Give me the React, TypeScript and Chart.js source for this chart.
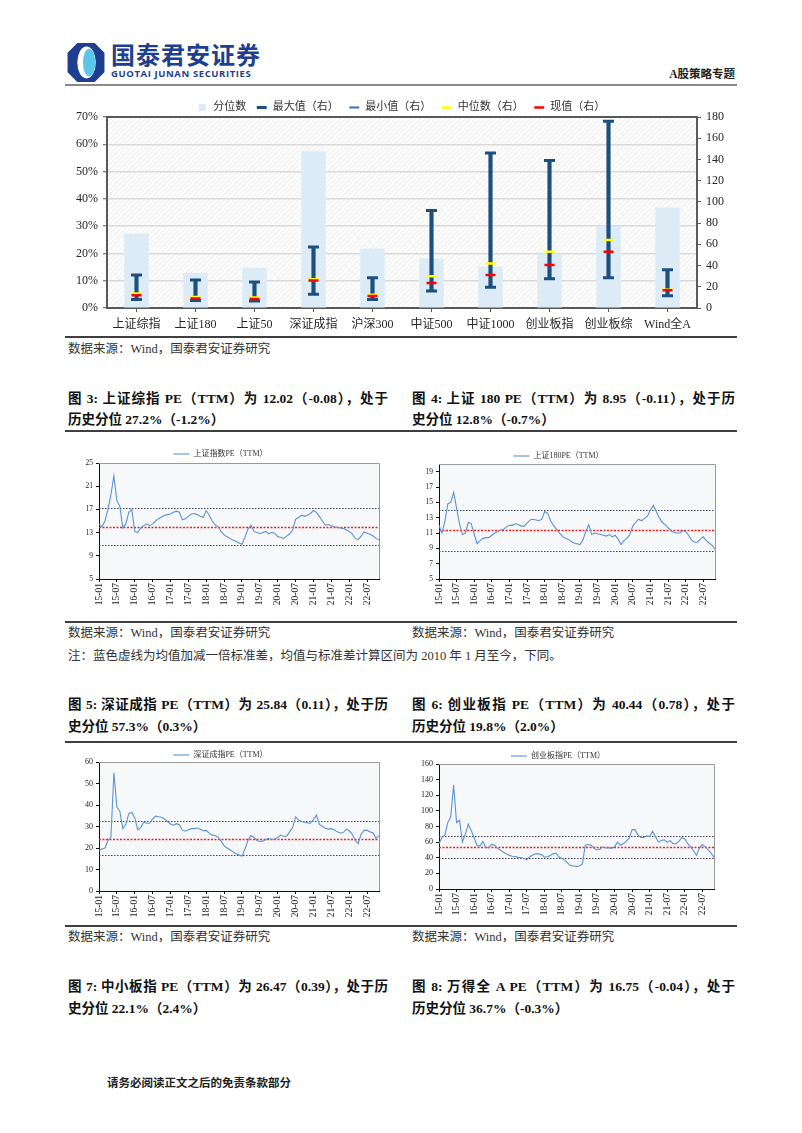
import React, { useEffect, useRef } from 'react';
import { Chart, registerables } from 'chart.js';
Chart.register(...registerables);

const SERIF = "'Liberation Serif', 'Noto Sans CJK SC', serif";
const NAVY = '#1B4F7E';
const LINE_BLUE = '#5B93D3';

// ---------- top chart data ----------
const CATEGORIES = ['上证综指', '上证180', '上证50', '深证成指', '沪深300', '中证500', '中证1000', '创业板指', '创业板综', 'Wind全A'];
const PERCENTILE = [27.2, 12.8, 14.6, 57.3, 21.7, 18.1, 15.1, 19.8, 29.9, 36.7];
const MAX_PE = [31, 26.5, 24.5, 57.5, 28.6, 92, 146, 139, 176, 36];
const MIN_PE = [8, 7, 6.6, 13, 7.9, 16, 19.5, 27.5, 28.5, 11.5];
const MEDIAN_PE = [13.6, 10.3, 10, 27, 12.6, 30, 42, 53, 64, 17.2];
const CURRENT_PE = [12.02, 8.95, 8.5, 25.84, 11.3, 23.5, 31, 40.44, 53, 16.75];
const LEGEND_TOP = ['分位数', '最大值（右）', '最小值（右）', '中位数（右）', '现值（右）'];

// ---------- line charts data ----------
const YEARS = ['15', '16', '17', '18', '19', '20', '21', '22'];
const MONTHS = ['01', '02', '03', '04', '05', '06', '07', '08', '09', '10', '11', '12'];
const MONTH_LABELS = YEARS.flatMap((y) => MONTHS.map((m) => `${y}-${m}`)).slice(0, 95);

const SH_PE = [
  14.5, 14.0, 15.0, 17.0, 19.5, 22.8, 18.5, 17.5, 13.8, 14.5,
  16.5, 17.0, 13.2, 13.0, 13.8, 14.2, 14.5, 14.2, 14.5, 15.0,
  15.4, 15.7, 16.0, 16.1, 16.2, 16.5, 16.7, 16.5, 15.2, 15.4,
  15.8, 16.2, 16.3, 16.1, 15.8, 15.6, 16.8, 16.0, 15.0, 14.3,
  14.0, 13.2, 12.6, 12.3, 12.0, 11.7, 11.5, 11.2, 11.0, 12.2,
  13.6, 14.3, 13.2, 13.0, 12.8, 13.0, 13.2, 12.8, 13.0, 12.9,
  12.3, 12.2, 12.0, 12.4, 12.8, 13.4, 15.3, 15.6, 16.0, 15.8,
  16.0, 16.3, 16.8, 16.5, 15.8, 15.0, 14.3, 14.4, 14.2, 14.0,
  13.9, 13.8, 13.7, 13.5, 13.2, 12.8, 12.0, 11.8, 12.4, 13.1,
  12.9, 12.7, 12.4, 12.0, 11.7,
];
const SH180_PE = [
  12.0, 11.0, 12.5, 14.8, 15.0, 16.3, 14.2, 12.2, 10.8, 11.0,
  12.4, 12.2, 10.8, 9.6, 10.0, 10.3, 10.4, 10.4, 10.7, 11.0,
  11.2, 11.4, 11.5, 11.8, 12.0, 12.0, 12.2, 12.1, 11.9, 11.9,
  12.3, 12.7, 12.8, 12.7, 12.6, 12.8, 13.8, 13.6, 12.6, 12.0,
  11.5, 11.0, 10.6, 10.3, 10.2, 9.9, 9.7, 9.6, 9.5, 10.1,
  11.2, 12.1, 10.8, 11.0, 10.9, 10.8, 10.7, 10.6, 10.8, 10.5,
  10.7, 10.2, 9.5, 10.0, 10.3, 10.8, 11.9, 12.4, 12.8, 12.6,
  12.9, 13.2, 14.0, 14.6, 13.8, 13.0, 12.4, 12.1, 11.7, 11.3,
  11.1, 11.0, 11.0, 11.3, 11.2, 10.7, 10.1, 9.8, 9.8, 10.2,
  10.5, 10.0, 9.7, 9.4, 8.9,
];
const SZ_PE = [
  18.8, 19.5, 20.0, 23.5, 25.0, 55.0, 39.0, 37.0, 29.0, 31.0,
  36.0, 36.5, 34.0, 28.5, 29.5, 32.0, 31.5, 31.5, 33.5, 34.8,
  34.5, 34.3, 33.5, 32.3, 31.2, 30.6, 31.3, 30.8, 28.3, 27.8,
  28.5, 29.0, 29.0, 29.3, 28.7, 28.0, 28.2, 26.8, 26.0, 25.8,
  25.0, 23.2, 21.0, 20.0, 19.2, 18.2, 17.3, 16.8, 16.2, 19.5,
  23.5, 25.8, 25.0, 23.5, 23.0, 23.2, 24.0, 24.5, 24.0, 24.2,
  24.8, 26.0, 25.5, 25.5, 27.5, 29.5, 34.5, 33.0, 32.3, 32.0,
  31.7, 31.5, 33.2, 35.3, 31.0, 30.0, 29.2, 28.8, 29.0, 28.5,
  27.5, 27.0, 27.2, 28.8, 28.0, 26.5, 23.5, 22.0, 26.5, 28.2,
  28.3, 27.5, 27.0, 24.5, 25.8,
];
const CYB_PE = [
  58, 66, 69, 85, 92, 133, 85, 88, 60, 70,
  83, 75, 66, 56, 55, 61, 53, 53, 57, 56,
  52, 50, 47, 45, 43, 42, 41.5, 40.5, 40, 39,
  37.5, 41, 43.5, 45, 45, 44, 41, 41, 43, 45,
  46, 41, 39, 37, 33, 30, 29.5, 29, 29.5, 32,
  56, 57, 56, 52, 50, 51, 54, 52.5, 53, 52,
  54, 60, 56, 58, 61, 65, 76, 76, 69, 66,
  66, 68, 67, 74, 67, 60, 62, 63, 60, 62,
  58, 58, 61, 66, 64, 58, 54, 49, 43, 52,
  57, 54, 50, 46, 40.44,
];
// [mean + 1sd, mean, mean - 1sd]
const SH_BANDS = [17.3, 14.0, 10.8];
const SH180_BANDS = [14.0, 11.35, 8.7];
const SZ_BANDS = [32.5, 24.3, 16.6];
const CYB_BANDS = [68.3, 54.2, 39.2];
const SH_TICKS = [5, 7, 9, 11, 13, 15, 17, 19, 21, 23, 25];
const SH180_TICKS = [5, 7, 9, 11, 13, 15, 17, 19];
const SZ_TICKS = [0, 10, 20, 30, 40, 50, 60];
const CYB_TICKS = [0, 20, 40, 60, 80, 100, 120, 140, 160];

// ---------- plugins ----------
const legendHeightPlugin: any = {
  id: 'legendHeight',
  beforeLayout(chart: any, _a: any, opts: any) {
    const lg = chart.legend;
    if (lg && !lg.__patched && opts && opts.height) {
      const fit = lg.fit;
      lg.fit = function () {
        fit.call(this);
        this.height = opts.height;
      };
      lg.__patched = true;
    }
  },
};

function makeHatch(ctx: CanvasRenderingContext2D) {
  const c = document.createElement('canvas');
  c.width = 5;
  c.height = 5;
  const g = c.getContext('2d')!;
  g.fillStyle = '#ffffff';
  g.fillRect(0, 0, 5, 5);
  g.strokeStyle = '#EAEAEA';
  g.lineWidth = 1;
  g.beginPath();
  g.moveTo(-1, 6);
  g.lineTo(6, -1);
  g.stroke();
  return ctx.createPattern(c, 'repeat');
}

const topFramePlugin: any = {
  id: 'topFrame',
  beforeDraw(chart: any, _a: any, opts: any) {
    const { ctx, chartArea: a } = chart;
    ctx.save();
    ctx.fillStyle = opts.pattern || '#fff';
    ctx.fillRect(a.left, a.top, a.right - a.left, a.bottom - a.top);
    ctx.restore();
  },
  afterDraw(chart: any) {
    const { ctx, chartArea: a } = chart;
    ctx.save();
    ctx.strokeStyle = '#595959';
    ctx.lineWidth = 2;
    ctx.beginPath();
    ctx.moveTo(a.left - 1, a.top);
    ctx.lineTo(a.right + 1, a.top);
    ctx.stroke();
    ctx.restore();
  },
};

const bandPlugin: any = {
  id: 'bands',
  beforeDraw(chart: any) {
    const { ctx, chartArea: a } = chart;
    ctx.save();
    ctx.fillStyle = '#F7F8FA';
    ctx.fillRect(a.left, a.top, a.right - a.left, a.bottom - a.top);
    ctx.restore();
  },
  beforeDatasetsDraw(chart: any, _a: any, opts: any) {
    const { ctx, chartArea: a, scales } = chart;
    (opts.values || []).forEach((v: number, i: number) => {
      const py = Math.round(scales.y.getPixelForValue(v)) + 0.5;
      ctx.save();
      ctx.beginPath();
      ctx.setLineDash(i === 1 ? [2, 1.5] : [1.5, 1.5]);
      ctx.strokeStyle = i === 1 ? '#FF1A1A' : '#3C3F58';
      ctx.lineWidth = i === 1 ? 1.3 : 1;
      ctx.moveTo(a.left, py);
      ctx.lineTo(a.right, py);
      ctx.stroke();
      ctx.restore();
    });
  },
  afterDraw(chart: any) {
    const { ctx, chartArea: a } = chart;
    ctx.save();
    ctx.strokeStyle = '#9A9A9A';
    ctx.lineWidth = 1;
    ctx.beginPath();
    ctx.moveTo(a.left, Math.round(a.top) + 0.5);
    ctx.lineTo(Math.round(a.right) + 0.5, Math.round(a.top) + 0.5);
    ctx.lineTo(Math.round(a.right) + 0.5, a.bottom);
    ctx.stroke();
    ctx.restore();
  },
};

// ---------- top chart ----------
function TopChart() {
  const ref = useRef<HTMLCanvasElement>(null);
  useEffect(() => {
    const canvas = ref.current!;
    const pattern = makeHatch(canvas.getContext('2d')!);
    const stems = MIN_PE.map((m, i) => [m, MAX_PE[i]]);
    const cap = (label: string, data: number[], color: string, width: number, radius: number, order: number) => ({
      type: 'line',
      label,
      data,
      yAxisID: 'y1',
      showLine: false,
      pointStyle: 'line',
      pointRadius: radius,
      pointHoverRadius: radius,
      pointBorderWidth: width,
      pointBorderColor: color,
      borderColor: color,
      backgroundColor: color,
      order,
    });
    const font = { family: SERIF, size: 12 };
    const chart = new Chart(canvas, {
      type: 'bar',
      data: {
        labels: CATEGORIES,
        datasets: [
          { type: 'bar', label: LEGEND_TOP[0], data: PERCENTILE, yAxisID: 'y', backgroundColor: '#DDEBF7', barThickness: 24, grouped: false, order: 5 },
          cap(LEGEND_TOP[1], MAX_PE, NAVY, 3, 5.5, 2),
          cap(LEGEND_TOP[2], MIN_PE, NAVY, 3, 5.5, 2),
          cap(LEGEND_TOP[3], MEDIAN_PE, '#FFFF00', 2.5, 5, 1),
          cap(LEGEND_TOP[4], CURRENT_PE, '#FF0000', 2.5, 5, 0),
          { type: 'bar', label: 'range', data: stems, yAxisID: 'y1', backgroundColor: NAVY, barThickness: 3.5, grouped: false, order: 3 },
        ] as any,
      },
      options: {
        responsive: false,
        animation: false,
        devicePixelRatio: 1,
        layout: { padding: 0 },
        plugins: {
          tooltip: { enabled: false },
          legend: {
            display: true,
            labels: {
              usePointStyle: true,
              boxHeight: 7,
              padding: 10,
              color: '#333',
              font: { family: SERIF, size: 11 },
              filter: (it: any) => it.datasetIndex !== 5,
              sort: (a: any, b: any) => a.datasetIndex - b.datasetIndex,
              generateLabels: (c: any) => {
                const items = (Chart.defaults.plugins.legend.labels as any).generateLabels(c);
                items.forEach((it: any) => {
                  if (it.datasetIndex === 0) {
                    it.pointStyle = 'rect';
                    it.lineWidth = 0;
                  }
                  if (it.datasetIndex === 2) {
                    it.strokeStyle = '#2E75B6';
                    it.lineWidth = 2;
                  }
                });
                return items;
              },
            },
          },
          legendHeight: { height: 25 },
          topFrame: { pattern },
        } as any,
        scales: {
          x: {
            offset: true,
            grid: { drawOnChartArea: false, offset: false, tickLength: 4, color: '#595959' },
            border: { color: '#595959', width: 2 },
            ticks: { font, color: '#262626', padding: 6, maxRotation: 0 },
            afterFit: (s: any) => { s.height = 27; },
          },
          y: {
            position: 'left',
            min: 0,
            max: 70,
            grid: { color: '#D9D9D9', lineWidth: 1.5, tickLength: 4, tickColor: '#595959', tickWidth: 1 },
            border: { color: '#595959', width: 2 },
            ticks: { stepSize: 10, callback: (v: any) => v + '%', font, color: '#262626', padding: 5 },
            afterFit: (s: any) => { s.width = 45; },
          },
          y1: {
            position: 'right',
            min: 0,
            max: 180,
            grid: { drawOnChartArea: false, tickLength: 4, color: '#595959' },
            border: { color: '#595959', width: 2 },
            ticks: { stepSize: 20, font, color: '#262626', padding: 5 },
            afterFit: (s: any) => { s.width = 43; },
          },
        } as any,
      },
      plugins: [legendHeightPlugin, topFramePlugin],
    } as any);
    return () => chart.destroy();
  }, []);
  return <canvas ref={ref} width={678} height={243} style={{ position: 'absolute', left: 62, top: 92, width: 678, height: 243 }} />;
}

// ---------- PE line chart ----------
type PeProps = {
  box: [number, number, number, number];
  legend: string;
  values: number[];
  yMin: number;
  yMax: number;
  yTicks: number[];
  bands: number[];
  padRight: number;
  legendH: number;
  legendPad: number;
  xH: number;
  yFont: number;
};

function PeChart(p: PeProps) {
  const ref = useRef<HTMLCanvasElement>(null);
  useEffect(() => {
    const chart = new Chart(ref.current!, {
      type: 'line',
      data: {
        labels: MONTH_LABELS,
        datasets: [
          { label: p.legend, data: p.values, borderColor: LINE_BLUE, backgroundColor: LINE_BLUE, borderWidth: 1.1, pointRadius: 0, pointStyle: 'line', tension: 0, fill: false },
        ],
      },
      options: {
        responsive: false,
        animation: false,
        devicePixelRatio: 1,
        layout: { padding: { right: p.padRight, left: 0, top: 0, bottom: 0 } },
        plugins: {
          tooltip: { enabled: false },
          legend: {
            display: true,
            labels: { usePointStyle: true, pointStyleWidth: 16, boxHeight: 6, padding: p.legendPad, color: '#333', font: { family: SERIF, size: 8 } },
          },
          legendHeight: { height: p.legendH },
          bands: { values: p.bands },
        } as any,
        scales: {
          x: {
            grid: { drawOnChartArea: false, tickLength: 3, offset: false, color: '#111' },
            border: { color: '#111', width: 1 },
            ticks: { autoSkip: false, minRotation: 90, maxRotation: 90, padding: 1, color: '#222', font: { family: SERIF, size: 9.5 } },
            afterBuildTicks: (s: any) => {
              s.ticks = s.ticks.filter((t: any) => /-(01|07)$/.test(MONTH_LABELS[t.value]));
            },
            afterFit: (s: any) => { s.height = p.xH; },
          },
          y: {
            min: p.yMin,
            max: p.yMax,
            grid: { drawOnChartArea: false, tickLength: 3, color: '#111' },
            border: { color: '#111', width: 1 },
            ticks: { color: '#222', padding: 3, font: { family: SERIF, size: p.yFont } },
            afterBuildTicks: (s: any) => {
              s.ticks = p.yTicks.map((v) => ({ value: v }));
            },
            afterFit: (s: any) => { s.width = 37; },
          },
        } as any,
      },
      plugins: [legendHeightPlugin, bandPlugin],
    } as any);
    return () => chart.destroy();
  }, []);
  const [l, t, w, h] = p.box;
  return <canvas ref={ref} width={w} height={h} style={{ position: 'absolute', left: l, top: t, width: w, height: h }} />;
}

// ---------- page text ----------
const abs = (left: number, top: number, extra: any = {}) => ({ position: 'absolute' as const, left, top, ...extra });

function Rule({ top, color = '#3F3F3F', h = 1.5 }: { top: number; color?: string; h?: number }) {
  return <div style={abs(65, top, { width: 672, height: h, background: color })} />;
}

function Source({ left, top }: { left: number; top: number }) {
  return (
    <div style={abs(left, top, { fontSize: 12.5, lineHeight: '14px', color: '#333', whiteSpace: 'nowrap' })}>
      数据来源：Wind，国泰君安证券研究
    </div>
  );
}

function FigTitle({ left, top, width, l1, l2 }: { left: number; top: number; width: number; l1: string; l2: string }) {
  return (
    <div style={abs(left, top, { width, fontWeight: 700, fontSize: 13.5, lineHeight: '21.5px', color: '#111' })}>
      <div style={{ textAlign: 'justify', textAlignLast: 'justify', whiteSpace: 'nowrap' }}>{l1}</div>
      <div style={{ whiteSpace: 'nowrap' }}>{l2}</div>
    </div>
  );
}

export default function App() {
  return (
    <div style={{ position: 'absolute', left: 0, top: 0, width: 802, height: 1133, background: '#fff', fontFamily: SERIF, overflow: 'hidden' }}>
      {/* header */}
      <svg style={abs(67, 43)} width={38} height={39} viewBox="0 0 36 38">
        <path d="M10 1 H26 L35 10 V28 L26 37 H10 L1 28 V10 Z" fill="#1E3F8F" stroke="#1E3F8F" strokeWidth={2} strokeLinejoin="round" />
        <ellipse cx={18.5} cy={19} rx={9} ry={15.5} fill="#ffffff" />
        <ellipse cx={21} cy={19} rx={6} ry={13.5} fill="#5CC6EA" />
      </svg>
      <div style={abs(111, 40, { fontFamily: "'Noto Sans CJK SC'", fontWeight: 700, fontSize: 24, lineHeight: '28px', color: '#1E3F8F', letterSpacing: 1 })}>国泰君安证券</div>
      <div style={abs(111, 68, { fontFamily: "'Open Sans', 'Liberation Sans', sans-serif", fontWeight: 700, fontSize: 9.5, lineHeight: '11px', color: '#1E3F8F', letterSpacing: 0.6 })}>GUOTAI JUNAN SECURITIES</div>
      <div style={abs(660, 67, { width: 75, textAlign: 'right', fontSize: 11.5, lineHeight: '14px', fontWeight: 600, color: '#222' })}>A股策略专题</div>
      <Rule top={84} color="#8A8A8A" h={2} />

      <TopChart />
      <Rule top={336} />
      <Source left={68} top={342} />

      <FigTitle left={68} top={387.5} width={320} l1="图 3: 上证综指 PE（TTM）为 12.02（-0.08），处于" l2="历史分位 27.2%（-1.2%）" />
      <FigTitle left={412} top={387.5} width={323} l1="图 4: 上证 180 PE（TTM）为 8.95（-0.11），处于历" l2="史分位 12.8%（-0.7%）" />
      <Rule top={430} />

      <PeChart box={[62, 443, 330, 170]} legend="上证指数PE（TTM）" values={SH_PE} yMin={5} yMax={25} yTicks={SH_TICKS} bands={SH_BANDS} padRight={13} legendH={20} legendPad={7} xH={34} yFont={7.5} />
      <PeChart box={[402, 443, 330, 170]} legend="上证180PE（TTM）" values={SH180_PE} yMin={5} yMax={20} yTicks={SH180_TICKS} bands={SH180_BANDS} padRight={17} legendH={21} legendPad={9} xH={34} yFont={7.5} />
      <Rule top={621} />
      <Source left={68} top={626} />
      <Source left={412} top={626} />
      <div style={abs(68, 649, { fontSize: 12.5, lineHeight: '14px', color: '#333', whiteSpace: 'nowrap' })}>
        注：蓝色虚线为均值加减一倍标准差，均值与标准差计算区间为 2010 年 1 月至今，下同。
      </div>

      <FigTitle left={68} top={694} width={320} l1="图 5: 深证成指 PE（TTM）为 25.84（0.11），处于历" l2="史分位 57.3%（0.3%）" />
      <FigTitle left={412} top={694} width={323} l1="图 6: 创业板指 PE（TTM）为 40.44（0.78），处于" l2="历史分位 19.8%（2.0%）" />
      <Rule top={741} />

      <PeChart box={[62, 745, 330, 175]} legend="深证成指PE（TTM）" values={SZ_PE} yMin={0} yMax={60} yTicks={SZ_TICKS} bands={SZ_BANDS} padRight={13} legendH={17} legendPad={6} xH={29} yFont={8} />
      <PeChart box={[402, 745, 330, 175]} legend="创业板指PE（TTM）" values={CYB_PE} yMin={0} yMax={160} yTicks={CYB_TICKS} bands={CYB_BANDS} padRight={18} legendH={19} legendPad={7} xH={31} yFont={8} />
      <Rule top={925} />
      <Source left={68} top={930} />
      <Source left={412} top={930} />

      <FigTitle left={68} top={976} width={320} l1="图 7: 中小板指 PE（TTM）为 26.47（0.39），处于历" l2="史分位 22.1%（2.4%）" />
      <FigTitle left={412} top={976} width={323} l1="图 8: 万得全 A PE（TTM）为 16.75（-0.04），处于" l2="历史分位 36.7%（-0.3%）" />

      <div style={abs(107, 1076, { fontSize: 11.5, lineHeight: '14px', fontWeight: 700, color: '#222', whiteSpace: 'nowrap' })}>请务必阅读正文之后的免责条款部分</div>
    </div>
  );
}
